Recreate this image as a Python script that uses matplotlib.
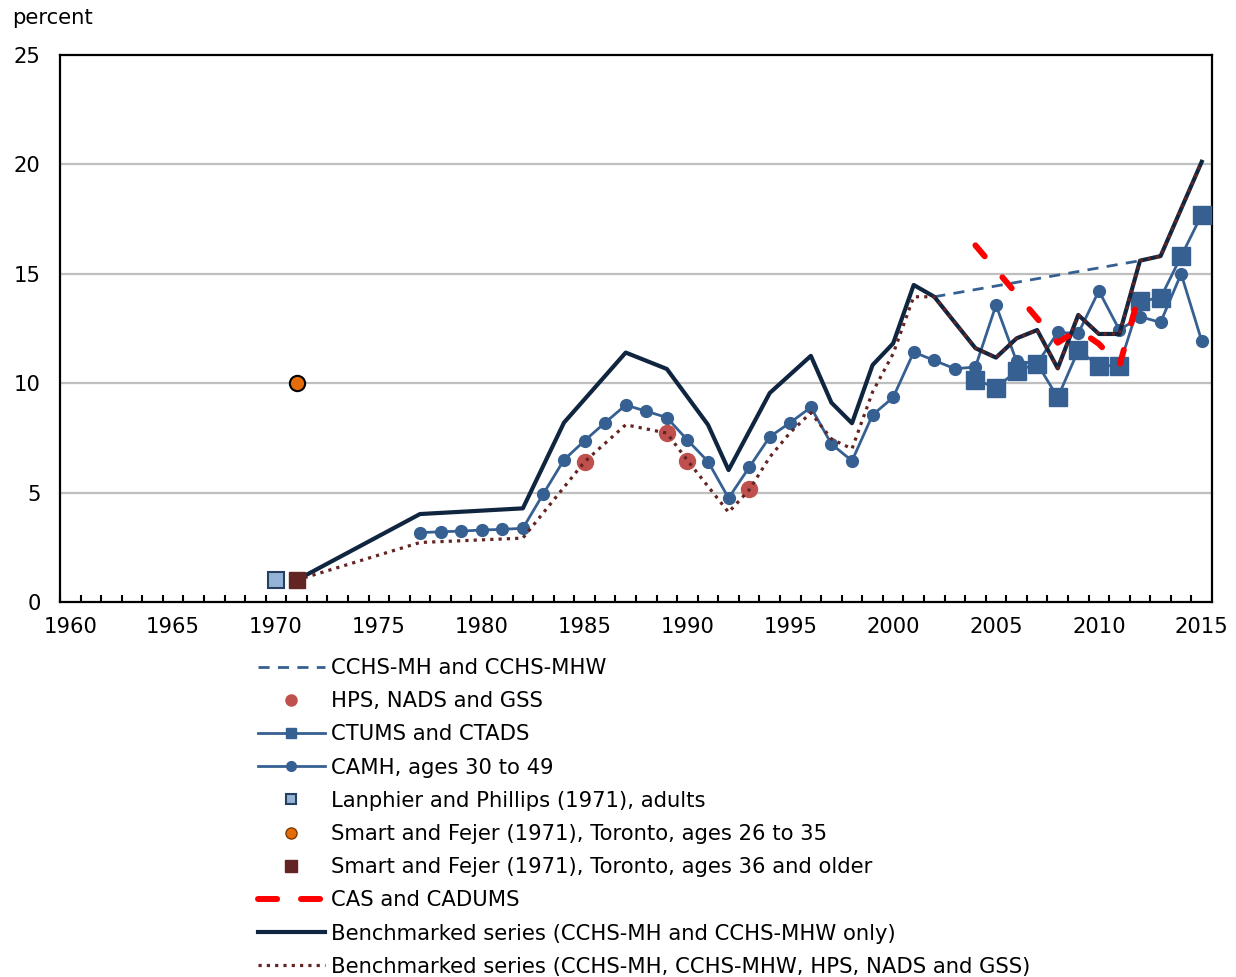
import matplotlib
matplotlib.use('Agg')
import matplotlib.pyplot as plt
from matplotlib.lines import Line2D

plt.rcParams['font.family'] = ['DejaVu Sans']

# CCHS-MH (2002) and CCHS-MHW (2012)
cchs_years = [2002, 2012]
cchs_vals = [13.95, 15.6]

# HPS, NADS and GSS
hps_years = [1985, 1989, 1990, 1993]
hps_vals = [6.41, 7.74, 6.46, 5.16]

# CTUMS and CTADS
ctums_years = list(range(2004, 2016))
ctums_vals = [10.15, 9.8, 10.55, 10.9, 9.35, 11.5, 10.8, 10.8, 13.75, 13.9, 15.8, 17.7]

# CAMH, ages 30 to 49
camh_years = list(range(1977, 2016))
camh_vals = [3.17, 3.21, 3.24, 3.29, 3.32, 3.37, 4.95, 6.5, 7.37, 8.2, 9.0, 8.72, 8.43,
             7.4, 6.42, 4.75, 6.15, 7.55, 8.2, 8.9, 7.22, 6.45, 8.55, 9.35, 11.42, 11.04,
             10.66, 10.74, 13.57, 11.0, 10.9, 12.32, 12.28, 14.22, 12.43, 13.04, 12.78,
             15.0, 11.93]

# 1971 one-off surveys
lanphier_year, lanphier_val = 1970, 1.0
smart_young_year, smart_young_val = 1971, 10.0
smart_old_year, smart_old_val = 1971, 1.0

# CAS (2004) and CADUMS (2008-2012)
cas_years = [2004, 2008, 2009, 2010, 2011, 2012]
cas_vals = [16.3, 11.85, 12.45, 11.8, 10.8, 14.2]

# benchmarked to CCHS-MH / CCHS-MHW only
bench_years = [1971, 1977, 1982, 1984, 1987, 1989, 1991, 1992, 1994, 1996, 1997, 1998,
               1999, 2000, 2001, 2002, 2004, 2005, 2006, 2007, 2008, 2009, 2010, 2011,
               2012, 2013, 2015]
bench_vals = [1.0, 4.02, 4.28, 8.2, 11.4, 10.65, 8.1, 6.03, 9.55, 11.25, 9.11, 8.17,
              10.83, 11.82, 14.49, 13.95, 11.6, 11.17, 12.05, 12.43, 10.68, 13.12, 12.25,
              12.25, 15.6, 15.81, 20.12]

# benchmarked to CCHS-MH, CCHS-MHW, HPS, NADS and GSS
bench2_years = [1971, 1977, 1982, 1985, 1987, 1989, 1990, 1992, 1993, 1994, 1995, 1996,
                1997, 1998, 1999, 2000, 2001, 2002, 2004, 2005, 2006, 2007, 2008, 2009,
                2010, 2011, 2012, 2013, 2015]
bench2_vals = [1.0, 2.72, 2.92, 6.41, 8.1, 7.72, 6.47, 4.1, 5.12, 6.62, 7.75, 8.65,
               7.45, 7.0, 9.6, 11.35, 13.95, 13.95, 11.6, 11.17, 12.05, 12.43, 10.68,
               13.12, 12.25, 12.25, 15.6, 15.81, 20.12]

BLUE = '#376092'
NAVY = '#10253F'
MAROON = '#632523'
RED = '#FF0000'
FS = 15.2

fig = plt.figure(figsize=(12.36, 9.77), dpi=100)
ax = fig.add_axes([60 / 1236, 1 - 602 / 977, 1152 / 1236, 547 / 977])

ax.plot(camh_years, camh_vals, color=BLUE, lw=2.0, marker='o', ms=8.5, zorder=3)
ax.plot(ctums_years, ctums_vals, color=BLUE, lw=2.0, marker='s', ms=13.5, zorder=4)
ax.plot(hps_years, hps_vals, ls='none', marker='o', ms=11.5, color='#C0504D', zorder=4)
ax.plot(cchs_years, cchs_vals, color=BLUE, lw=2.0, ls=(0, (4, 3)), zorder=4)
ax.plot(bench_years, bench_vals, color=NAVY, lw=3.0, zorder=5)
ax.plot(bench2_years, bench2_vals, color=MAROON, lw=2.3, ls=(0, (1, 1.6)), zorder=6)
ax.plot(cas_years, cas_vals, color=RED, lw=4.3, ls=(0, (2.4, 4.6)),
        dash_capstyle='round', zorder=7)
ax.plot([lanphier_year], [lanphier_val], ls='none', marker='s', ms=12,
        mfc='#95B3D7', mec='#254061', mew=1.5, zorder=8)
ax.plot([smart_old_year], [smart_old_val], ls='none', marker='s', ms=12,
        mfc=MAROON, mec=MAROON, zorder=8)
ax.plot([smart_young_year], [smart_young_val], ls='none', marker='o', ms=11,
        mfc='#E46C0A', mec='black', mew=1.5, zorder=8)

ax.set_xlim(1959.5, 2015.5)
ax.set_ylim(0, 25)
ax.set_xticks(range(1960, 2016, 5))
ax.set_xticks([y + 0.5 for y in range(1959, 2015)], minor=True)
ax.tick_params(axis='x', which='major', length=0, pad=11, labelsize=FS)
ax.tick_params(axis='x', which='minor', direction='in', length=5, width=1.5,
               color='black')
ax.set_yticks(range(0, 26, 5))
ax.tick_params(axis='y', length=0, pad=14, labelsize=FS)
for v in (5, 10, 15, 20):
    ax.axhline(v, color='#BFBFBF', lw=1.6, zorder=1)
for s in ax.spines.values():
    s.set_linewidth(1.6)
    s.set_color('black')

fig.text(12 / 1236, 1 - 18 / 977, 'percent', fontsize=FS, va='center', ha='left')

handles = [
    Line2D([], [], color=BLUE, lw=2.0, ls=(0, (4, 3))),
    Line2D([], [], ls='none', marker='o', ms=8, color='#C0504D'),
    Line2D([], [], color=BLUE, lw=2.0, marker='s', ms=7.5),
    Line2D([], [], color=BLUE, lw=2.0, marker='o', ms=7),
    Line2D([], [], ls='none', marker='s', ms=7, mfc='#95B3D7', mec='#254061', mew=1.5),
    Line2D([], [], ls='none', marker='o', ms=8, mfc='#E46C0A', mec='#7F3A00', mew=1),
    Line2D([], [], ls='none', marker='s', ms=8, mfc=MAROON, mec=MAROON),
    Line2D([], [], color=RED, lw=4.3, ls=(0, (3.2, 4.0)), dash_capstyle='round'),
    Line2D([], [], color=NAVY, lw=3.0),
    Line2D([], [], color=MAROON, lw=2.3, ls=(0, (1, 1.6))),
]
labels = [
    'CCHS-MH and CCHS-MHW',
    'HPS, NADS and GSS',
    'CTUMS and CTADS',
    'CAMH, ages 30 to 49',
    'Lanphier and Phillips (1971), adults',
    'Smart and Fejer (1971), Toronto, ages 26 to 35',
    'Smart and Fejer (1971), Toronto, ages 36 and older',
    'CAS and CADUMS',
    'Benchmarked series (CCHS-MH and CCHS-MHW only)',
    'Benchmarked series (CCHS-MH, CCHS-MHW, HPS, NADS and GSS)',
]
fig.legend(handles, labels, loc='upper left', bbox_to_anchor=(258 / 1236, 1 - 658 / 977),
           frameon=False, fontsize=FS, handlelength=3.15, handletextpad=0.33,
           labelspacing=0.625, borderpad=0, borderaxespad=0)

fig.savefig('out.png', dpi=100)
